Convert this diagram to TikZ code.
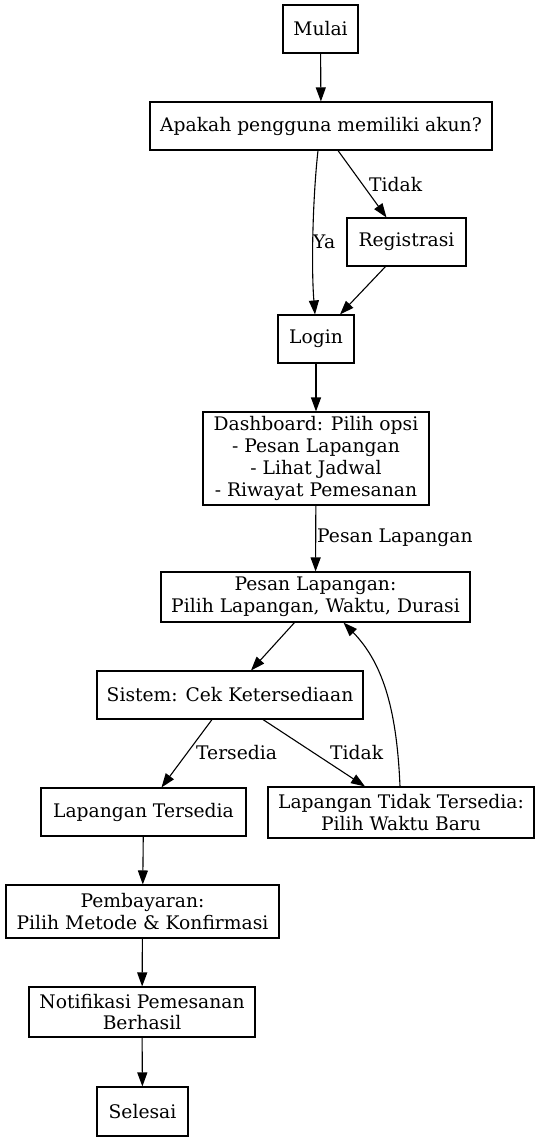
\documentclass[tikz,border=0pt]{standalone}
\usepackage{fontspec}
\setmainfont{DejaVu Serif}
\usetikzlibrary{arrows.meta}
\begin{document}
\begin{tikzpicture}[x=1pt,y=-1pt,
  box/.style={draw,line width=1.1pt,inner sep=0pt,align=center,minimum height=48pt,
    font=\fontsize{18.7}{21.7}\selectfont},
  lbl/.style={anchor=west,inner sep=0pt,font=\fontsize{18.7}{21.7}\selectfont},
  conn/.style={line width=1.1pt,-{Triangle[length=14pt,width=10pt]}}]
\useasboundingbox (0,0) rectangle (540,1141);
\node[box,minimum width=75pt] (mulai) at (320.5,29) {Mulai};
\node[box,minimum width=342pt] (q) at (321,126) {Apakah pengguna memiliki akun?};
\node[box,minimum width=119pt] (reg) at (406.5,242) {Registrasi};
\node[box,minimum width=76pt] (login) at (316,339) {Login};
\node[box,minimum width=226pt,minimum height=93pt] (dash) at (316,458.5) {Dashboard: Pilih opsi\\- Pesan Lapangan\\- Lihat Jadwal\\- Riwayat Pemesanan};
\node[box,minimum width=309pt,minimum height=50pt] (pesan) at (315.5,597) {Pesan Lapangan:\\Pilih Lapangan, Waktu, Durasi};
\node[box,minimum width=266pt] (sistem) at (230,695) {Sistem: Cek Ketersediaan};
\node[box,minimum width=205pt] (ada) at (143.5,812) {Lapangan Tersedia};
\node[box,minimum width=266pt,minimum height=51pt] (tidak) at (401,812.5) {Lapangan Tidak Tersedia:\\Pilih Waktu Baru};
\node[box,minimum width=273pt,minimum height=53pt] (bayar) at (142.5,911.5) {Pembayaran:\\Pilih Metode \& Konfirmasi};
\node[box,minimum width=226pt,minimum height=50pt] (notif) at (142,1012) {Notifikasi Pemesanan\\Berhasil};
\node[box,minimum width=91pt,minimum height=49pt] (selesai) at (142.5,1111.5) {Selesai};

\draw[conn] (mulai) -- (q);
\draw[conn] ([xshift=-3pt]q.south) .. controls (313,195) and (311,265) .. ([xshift=-1pt]login.north);
\node[lbl] (lya) at (313,242) {Ya};
\draw[conn] ([xshift=17pt]q.south) -- ([xshift=-20pt]reg.north);
\node[lbl] (ltidak1) at (369,185) {Tidak};
\draw[conn] ([xshift=-21pt]reg.south) -- ([xshift=24pt]login.north);
\draw[conn] (login) -- (dash);
\draw[conn] (dash) -- (pesan);
\node[lbl] (lpesan) at (317,538) {Pesan Lapangan};
\draw[conn] ([xshift=-21pt]pesan.south) -- ([xshift=21pt]sistem.north);
\draw[conn] ([xshift=-18pt]sistem.south) -- ([xshift=18pt]ada.north);
\node[lbl] (lada) at (196,753) {Tersedia};
\draw[conn] ([xshift=33pt]sistem.south) -- ([xshift=-36pt]tidak.north);
\node[lbl] (ltidak2) at (330,753) {Tidak};
\draw[conn] ([xshift=-1pt]tidak.north) .. controls (397,715) and (385,665) .. ([xshift=28pt]pesan.south);
\draw[conn] (ada) -- (bayar);
\draw[conn] (bayar) -- (notif);
\draw[conn] (notif) -- (selesai);
\end{tikzpicture}
\end{document}
